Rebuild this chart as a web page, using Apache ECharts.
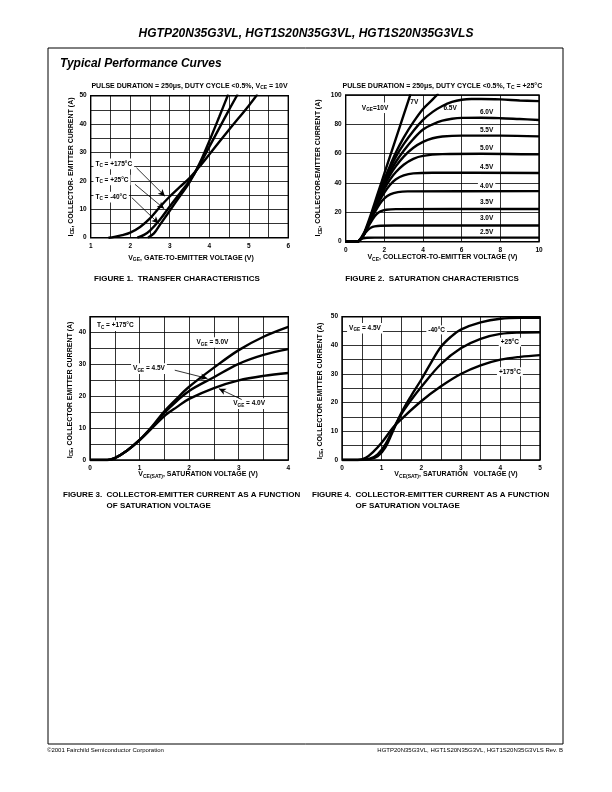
<!DOCTYPE html>
<html><head><meta charset="utf-8">
<script src="https://cdn.jsdelivr.net/npm/echarts@6/dist/echarts.min.js"></script>
<style>html,body{margin:0;padding:0;background:#fff}#c{width:612px;height:792px}</style>
</head><body><div id="c"></div>
<script>
// ---------- Figure 1: transfer characteristics (VGE [V], ICE [A]) ----------
const fig1_tc175 = [[1.45,0],[1.6,0.3],[1.8,0.9],[2,1.8],[2.25,3.8],[2.5,6.8],[2.75,10.8],[3,14.5],[3.25,17.8],[3.5,21],[3.75,25],[4,29.3],[4.5,38],[5,46.5],[5.22,50.5]];
const fig1_tc25  = [[2.18,0],[2.35,1],[2.5,2.5],[2.75,6.3],[3,11],[3.25,15.5],[3.5,20],[3.75,25.5],[4,32],[4.25,38.5],[4.5,45],[4.72,50.5]];
const fig1_tcm40 = [[2.45,0],[2.6,1.5],[2.75,4.5],[3,9.5],[3.25,14.5],[3.5,19.5],[3.75,26],[4,34],[4.25,42.5],[4.48,50.5]];
const fig1_xTicks = [1,2,3,4,5,6];
const fig1_yTicks = [0,10,20,30,40,50];

// ---------- Figure 2: saturation characteristics (VCE [V], ICE [A]) ----------
const fig2_v25 = [[0,0],[0.6,0],[0.7,0.8],[0.8,1.7],[0.9,2.3],[1.1,2.7],[1.5,2.8],[3,2.8],[6,2.8],[10,2.8]];
const fig2_v30 = [[0,0],[0.6,0],[0.75,1.5],[0.9,4],[1,5.8],[1.15,8],[1.3,9.5],[1.5,10.4],[1.8,10.9],[2.5,11],[10,11]];
const fig2_v35 = [[0,0],[0.6,0],[0.75,1.5],[0.9,4],[1,6.3],[1.2,11],[1.4,15.5],[1.6,18.8],[1.8,20.7],[2.1,21.8],[2.6,22.2],[10,22.3]];
const fig2_v40 = [[0,0],[0.6,0],[0.75,1.5],[0.9,4],[1,6.5],[1.25,13.5],[1.5,20],[1.75,25.5],[2,29.5],[2.3,32.3],[2.7,33.8],[3.2,34.3],[10,34.5]];
const fig2_v45 = [[0,0],[0.6,0],[0.75,1.5],[0.9,4],[1,6.5],[1.25,14],[1.5,21.5],[1.75,28],[2,33.5],[2.3,38.8],[2.6,42.5],[3,45.2],[3.5,46.6],[4.5,47],[10,46.8]];
const fig2_v50 = [[0,0],[0.6,0],[0.75,1.5],[0.9,4],[1,6.5],[1.25,14],[1.5,22],[1.75,29.5],[2,36],[2.3,42.5],[2.6,47.5],[3,52.5],[3.5,56.5],[4,58.5],[5,59.7],[7,60],[10,59.5]];
const fig2_v55 = [[0,0],[0.6,0],[0.75,1.5],[0.9,4],[1,6.5],[1.25,14.3],[1.5,22.5],[1.75,30.5],[2,38],[2.3,45.5],[2.6,51.5],[3,58],[3.5,64],[4,68],[4.5,70.5],[5,71.7],[6,72.3],[8,72.3],[10,71.8]];
const fig2_v60 = [[0,0],[0.6,0],[0.75,1.5],[0.9,4],[1,6.6],[1.25,14.5],[1.5,23],[1.75,31.5],[2,39.5],[2.3,47.5],[2.6,54.5],[3,62],[3.5,70],[4,76.5],[4.5,80],[5,82.5],[5.5,83.8],[6,84.4],[7,84.5],[8,84.2],[9,83.6],[10,83]];
const fig2_v65 = [[0,0],[0.6,0],[0.75,1.5],[0.9,4],[1,6.7],[1.25,14.7],[1.5,23.5],[1.75,32.3],[2,41],[2.3,50],[2.6,58],[3,66.5],[3.5,75.5],[4,83],[4.5,88.5],[5,92.5],[5.5,95.3],[6,96.8],[6.5,97.3],[7,97.3],[8,97],[9,96.3],[10,95.8]];
const fig2_v70 = [[0,0],[0.6,0],[0.75,1.6],[0.9,4.2],[1,6.8],[1.25,15],[1.5,24],[1.75,33],[2,42.5],[2.3,52],[2.6,61],[3,71],[3.5,81.5],[4,90.5],[4.5,97],[4.8,101]];
const fig2_v100 = [[0,0],[0.6,0],[0.75,1.8],[0.9,5],[1,7.5],[1.25,16.5],[1.5,26.5],[1.75,36.5],[2,46.5],[2.3,58.5],[2.6,70.5],[3,86.5],[3.35,100.5]];
const fig2_xTicks = [0,2,4,6,8,10];
const fig2_yTicks = [0,20,40,60,80,100];

// ---------- Figure 3: ICE vs VCE(SAT), TC = +175°C ----------
const fig3_v50 = [[0,0],[0.35,0],[0.5,0.6],[0.75,3],[1,6.3],[1.25,10.5],[1.5,15.3],[1.75,19.3],[2,23],[2.5,29],[3,34.5],[3.5,38.7],[4,41.8]];
const fig3_v45 = [[0,0],[0.35,0],[0.5,0.6],[0.75,3],[1,6.3],[1.25,10.3],[1.5,14.8],[1.75,18.5],[2,21.7],[2.5,26],[3,30.2],[3.5,33],[4,34.8]];
const fig3_v40 = [[0,0],[0.35,0],[0.5,0.6],[0.75,3],[1,6.2],[1.25,10],[1.5,13.8],[1.75,16.6],[2,19.2],[2.5,22.6],[3,25],[3.5,26.4],[4,27.3]];
const fig3_xTicks = [0,1,2,3,4];
const fig3_yTicks = [0,10,20,30,40];

// ---------- Figure 4: ICE vs VCE(SAT), VGE = 4.5V ----------
const fig4_tcm40 = [[0,0],[0.4,0],[0.7,0.3],[0.9,1.3],[1.1,4.5],[1.3,10.5],[1.5,16.5],[1.75,22.5],[2,28],[2.25,34],[2.5,39.5],[2.75,43],[3,45.5],[3.5,48],[4,49.3],[4.5,49.6],[5,49.6]];
const fig4_tc25  = [[0,0],[0.4,0],[0.7,0.5],[0.9,2],[1.1,5.5],[1.3,11],[1.5,16],[1.75,21],[2,25.5],[2.5,33.5],[3,39],[3.5,42.3],[4,44],[4.5,44.5],[5,44.6]];
const fig4_tc175 = [[0,0],[0.4,0],[0.6,0.8],[0.8,3],[1,6],[1.3,11.5],[1.5,14.3],[2,20.5],[2.5,25.7],[3,30],[3.5,33],[4,35],[4.5,36],[5,36.6]];
const fig4_xTicks = [0,1,2,3,4,5];
const fig4_yTicks = [0,10,20,30,40,50];

// ---------------------------------------------------------------------------
const FF = '"Liberation Sans", Arial, Helvetica, sans-serif';
const chart = echarts.init(document.getElementById('c'), null, {renderer: 'canvas'});

const grids = [
  {left: 90.7, top: 95.7, width: 197.6, height: 142},
  {left: 345.7, top: 95, width: 193.3, height: 146.7},
  {left: 90, top: 316.7, width: 198.3, height: 143.3},
  {left: 342, top: 316.7, width: 198, height: 143.3}
].map(g => Object.assign({show: true, borderColor: '#000', borderWidth: 1.4, backgroundColor: 'transparent'}, g));

function axis(kind, gi, min, max, interval, ticks) {
  return {
    type: 'value', gridIndex: gi, min, max, interval,
    axisLine: {show: false}, axisTick: {show: false},
    splitLine: {show: true, lineStyle: {color: '#000', width: 0.8}},
    axisLabel: {
      show: true, color: '#000', fontSize: 6.5, fontWeight: 'bold', fontFamily: FF,
      margin: kind === 'x' ? 5 : 4, showMinLabel: true, showMaxLabel: true, hideOverlap: false,
      formatter: v => ticks.some(t => Math.abs(t - v) < 1e-6) ? String(v) : ''
    }
  };
}

const xAxes = [
  axis('x', 0, 1, 6, 0.5, fig1_xTicks),
  axis('x', 1, 0, 10, 2, fig2_xTicks),
  axis('x', 2, 0, 4, 0.5, fig3_xTicks),
  axis('x', 3, 0, 5, 0.5, fig4_xTicks)
];
const yAxes = [
  axis('y', 0, 0, 50, 5, fig1_yTicks),
  axis('y', 1, 0, 100, 20, fig2_yTicks),
  axis('y', 2, 0, 45, 5, fig3_yTicks),
  axis('y', 3, 0, 50, 5, fig4_yTicks)
];

function line(gi, data, extra) {
  return Object.assign({
    type: 'line', xAxisIndex: gi, yAxisIndex: gi, data,
    showSymbol: false, symbol: 'none', smooth: 0.35, clip: true, silent: true,
    lineStyle: {color: '#000', width: 2.4}, z: 3
  }, extra || {});
}
function arrows(pairs) {
  return {
    silent: true, symbol: ['none', 'arrow'], symbolSize: [5, 7], animation: false,
    label: {show: false}, lineStyle: {color: '#000', width: 0.8, type: 'solid'},
    emphasis: {disabled: true},
    data: pairs.map(p => [{coord: p[0]}, {coord: p[1]}])
  };
}

const series = [
  line(0, fig1_tc175, {markLine: arrows([
    [[2.16, 24.6], [2.88, 14.6]],
    [[2.12, 18.8], [2.86, 10.2]],
    [[2.04, 14.1], [2.72, 5.0]]
  ])}),
  line(0, fig1_tc25), line(0, fig1_tcm40),
  line(1, fig2_v25), line(1, fig2_v30), line(1, fig2_v35), line(1, fig2_v40), line(1, fig2_v45),
  line(1, fig2_v50), line(1, fig2_v55), line(1, fig2_v60), line(1, fig2_v65), line(1, fig2_v70), line(1, fig2_v100),
  line(2, fig3_v50, {markLine: arrows([
    [[1.71, 28.2], [2.37, 25.6]],
    [[3.06, 19.0], [2.6, 22.4]]
  ])}),
  line(2, fig3_v45), line(2, fig3_v40),
  line(3, fig4_tcm40), line(3, fig4_tc25), line(3, fig4_tc175)
];

chart.setOption({animation: false, grid: grids, xAxis: xAxes, yAxis: yAxes, series});

// ---------- text ----------
function rich(size) {
  return {s: {fontSize: size * 0.72, fontWeight: 'bold', fontFamily: FF, padding: [size * 0.55, 0, 0, 0]}};
}
function T(x, y, text, o) {
  o = o || {};
  const size = o.size || 7;
  const st = {
    text, fill: '#000', fontFamily: FF, fontSize: size,
    fontWeight: o.weight || 'bold', fontStyle: o.italic ? 'italic' : 'normal',
    align: o.align || 'left', verticalAlign: 'middle', rich: rich(size)
  };
  if (o.bg) { st.backgroundColor = '#fff'; st.padding = o.pad || [1, 2, 1, 2]; }
  return {type: 'text', x, y, z: o.z || 50, rotation: o.rot || 0, silent: true, style: st};
}
function P(gi, v) { return chart.convertToPixel({gridIndex: gi}, v); }
function L(gi, v, text, o) { const p = P(gi, v); return T(p[0], p[1], text, Object.assign({bg: true, z: 1, size: 6.5}, o || {})); }

const ctx = document.createElement('canvas').getContext('2d');
function textW(s, font) { ctx.font = font; return ctx.measureText(s).width; }

const CAP = 8;
const capFont = 'bold ' + CAP + 'px ' + FF;
const fig3Lead = 'FIGURE 3.  ';
const fig4Lead = 'FIGURE 4.  ';

const g = [
  {type: 'rect', z: 0, silent: true, shape: {x: 48, y: 48, width: 515, height: 696}, style: {fill: 'none', stroke: '#000', lineWidth: 1}},
  T(306, 34, 'HGTP20N35G3VL, HGT1S20N35G3VL, HGT1S20N35G3VLS', {size: 12, italic: true, align: 'center'}),
  T(60, 64, 'Typical Performance Curves', {size: 12, italic: true}),

  // Figure 1
  T(189.5, 86, 'PULSE DURATION = 250μs, DUTY CYCLE <0.5%, V{s|CE} = 10V', {align: 'center'}),
  T(71, 167, 'I{s|CE}, COLLECTOR- EMITTER CURRENT (A)', {align: 'center', rot: Math.PI / 2}),
  T(191, 258, 'V{s|GE}, GATE-TO-EMITTER VOLTAGE (V)', {align: 'center'}),
  L(0, [1.07, 26], 'T{s|C} = +175°C'),
  L(0, [1.07, 20.3], 'T{s|C} = +25°C'),
  L(0, [1.07, 14.3], 'T{s|C} = -40°C'),
  T(177, 279, 'FIGURE 1.  TRANSFER CHARACTERISTICS', {size: CAP, align: 'center'}),

  // Figure 2
  T(442.4, 86, 'PULSE DURATION = 250μs, DUTY CYCLE <0.5%, T{s|C} = +25°C', {align: 'center'}),
  T(318.3, 168, 'I{s|CE}, COLLECTOR-EMITTER CURRENT (A)', {align: 'center', rot: Math.PI / 2}),
  T(442.4, 257.5, 'V{s|CE}, COLLECTOR-TO-EMITTER VOLTAGE (V)', {align: 'center'}),
  L(1, [1.52, 91.3], 'V{s|GE}=10V', {align: 'center'}),
  L(1, [3.55, 95.4], '7V', {align: 'center'}),
  L(1, [5.4, 91], '6.5V', {align: 'center'}),
  L(1, [7.29, 88.5], '6.0V', {align: 'center'}),
  L(1, [7.29, 75.7], '5.5V', {align: 'center'}),
  L(1, [7.29, 64], '5.0V', {align: 'center'}),
  L(1, [7.29, 51], '4.5V', {align: 'center'}),
  L(1, [7.29, 37.8], '4.0V', {align: 'center'}),
  L(1, [7.29, 26.6], '3.5V', {align: 'center'}),
  L(1, [7.29, 15.8], '3.0V', {align: 'center'}),
  L(1, [7.29, 6.3], '2.5V', {align: 'center'}),
  T(432, 279, 'FIGURE 2.  SATURATION CHARACTERISTICS', {size: CAP, align: 'center'}),

  // Figure 3
  T(70, 390, 'I{s|CE}, COLLECTOR EMITTER CURRENT (A)', {align: 'center', rot: Math.PI / 2}),
  T(198, 474.3, 'V{s|CE(SAT)}, SATURATION VOLTAGE (V)', {align: 'center'}),
  L(2, [0.1, 42.2], 'T{s|C} = +175°C'),
  L(2, [2.47, 36.9], 'V{s|GE} = 5.0V', {align: 'center'}),
  L(2, [1.19, 28.7], 'V{s|GE} = 4.5V', {align: 'center'}),
  L(2, [3.21, 17.7], 'V{s|GE} = 4.0V', {align: 'center'}),
  T(63, 495, fig3Lead + 'COLLECTOR-EMITTER CURRENT AS A FUNCTION', {size: CAP}),
  T(63 + textW(fig3Lead, capFont), 505.5, 'OF SATURATION VOLTAGE', {size: CAP}),

  // Figure 4
  T(320, 391, 'I{s|CE}, COLLECTOR EMITTER CURRENT (A)', {align: 'center', rot: Math.PI / 2}),
  T(456, 474.3, 'V{s|CE(SAT)}, SATURATION   VOLTAGE (V)', {align: 'center'}),
  L(3, [0.58, 46], 'V{s|GE} = 4.5V', {align: 'center'}),
  L(3, [2.39, 45.4], '-40°C', {align: 'center'}),
  L(3, [4.24, 41.1], '+25°C', {align: 'center'}),
  L(3, [4.24, 30.8], '+175°C', {align: 'center'}),
  T(312, 495, fig4Lead + 'COLLECTOR-EMITTER CURRENT AS A FUNCTION', {size: CAP}),
  T(312 + textW(fig4Lead, capFont), 505.5, 'OF SATURATION VOLTAGE', {size: CAP}),

  // footer
  T(47, 750, '©2001 Fairchild Semiconductor Corporation', {size: 6, weight: 'normal'}),
  T(563, 750, 'HGTP20N35G3VL, HGT1S20N35G3VL, HGT1S20N35G3VLS Rev. B', {size: 6, weight: 'normal', align: 'right'})
];

chart.setOption({graphic: g});
</script>
</body></html>
